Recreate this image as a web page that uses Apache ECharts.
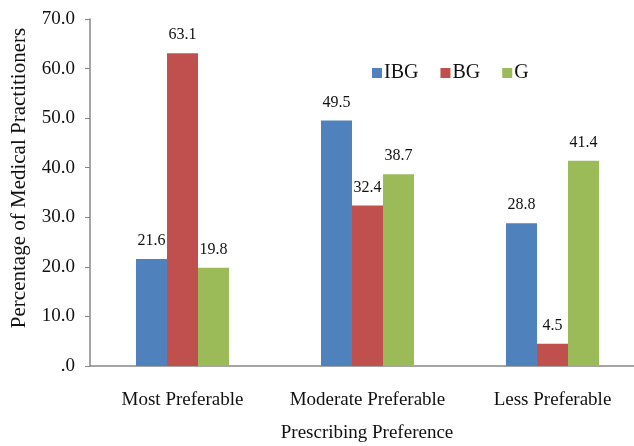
<!DOCTYPE html>
<html>
<head>
<meta charset="utf-8">
<script src="https://cdn.jsdelivr.net/npm/echarts@6/dist/echarts.min.js"></script>
<style>html,body{margin:0;padding:0;background:#fff;overflow:hidden;width:634px;height:446px}#c{width:648px;height:446px}</style>
</head>
<body>
<div id="c"></div>
<script>
var categories = ['Most Preferable', 'Moderate Preferable', 'Less Preferable'];
var seriesNames = ['IBG', 'BG', 'G'];
var ibg = [21.6, 49.5, 28.8];
var bg = [63.1, 32.4, 4.5];
var g = [19.8, 38.7, 41.4];
var colors = ['#4F81BD', '#C0504D', '#9BBB59'];
var yTicks = [0, 10, 20, 30, 40, 50, 60, 70];

var font = '"Liberation Serif", "Times New Roman", serif';
var chart = echarts.init(document.getElementById('c'));
function mk(name, data, color) {
  return {
    name: name, type: 'bar', data: data, barGap: '0%', barCategoryGap: '49.7%',
    itemStyle: { color: color },
    label: { show: true, position: 'top', distance: 10, fontFamily: font, fontSize: 16, color: '#111',
      formatter: function (p) { return p.value.toFixed(1); } }
  };
}
chart.setOption({
  animation: false,
  textStyle: { fontFamily: font },
  grid: { left: 90, width: 555, top: 19, bottom: 80, containLabel: false },
  legend: {
    data: seriesNames, left: 367, top: 58, itemWidth: 10, itemHeight: 10, itemGap: 22,
    icon: 'rect', textStyle: { fontFamily: font, fontSize: 20, color: '#111', padding: [0, 0, 0, -3] }
  },
  xAxis: {
    type: 'category', data: categories,
    axisLine: { lineStyle: { color: '#868686', width: 1.5 } },
    axisTick: { show: false },
    axisLabel: { interval: 0, fontFamily: font, fontSize: 19, color: '#111', margin: 25 }
  },
  yAxis: {
    type: 'value', min: yTicks[0], max: yTicks[yTicks.length - 1], interval: 10,
    splitLine: { show: false },
    axisLine: { show: true, lineStyle: { color: '#868686', width: 1.5 } },
    axisTick: { show: true, inside: false, length: 5, lineStyle: { color: '#868686' } },
    axisLabel: { fontFamily: font, fontSize: 19, color: '#111', margin: 15,
      formatter: function (v) { return v === 0 ? '.0' : v.toFixed(1); } }
  },
  graphic: [
    { type: 'text', x: 19, y: 178, rotation: Math.PI / 2,
      style: { text: 'Percentage of Medical Practitioners', font: '21px ' + font, fill: '#111', align: 'center', verticalAlign: 'middle' } },
    { type: 'text', x: 367, y: 433,
      style: { text: 'Prescribing Preference', font: '19px ' + font, fill: '#111', align: 'center', verticalAlign: 'middle' } }
  ],
  series: [mk(seriesNames[0], ibg, colors[0]), mk(seriesNames[1], bg, colors[1]), mk(seriesNames[2], g, colors[2])]
});
</script>
</body>
</html>
